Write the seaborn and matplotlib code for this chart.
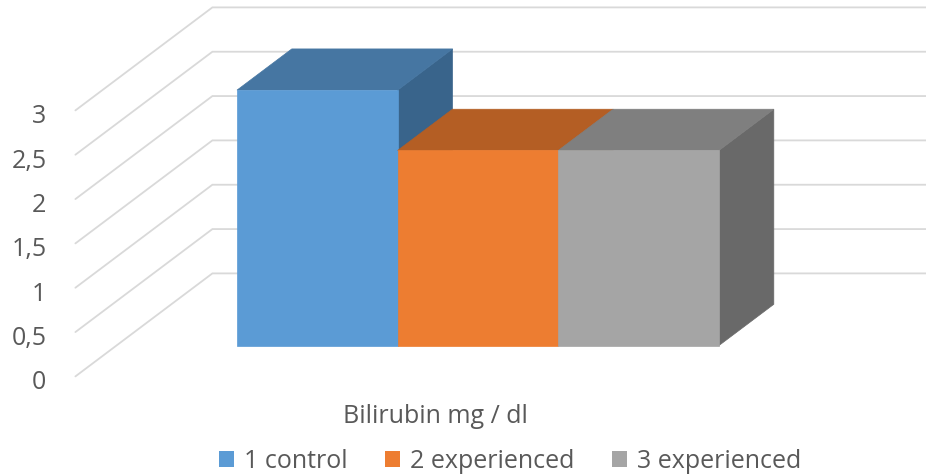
import matplotlib
matplotlib.use("Agg")
import matplotlib.pyplot as plt
from matplotlib.patches import Polygon, Patch
import pandas as pd
import seaborn as sns

# data
groups = ["1 control", "2 experienced", "3 experienced"]
bilirubin = [2.88, 2.2, 2.2]
y_ticks = [0, 0.5, 1, 1.5, 2, 2.5, 3]
axis_title = "Bilirubin mg / dl"

# colours: front face, top face, right side face
front_colors = ["#5B9BD5", "#ED7D31", "#A5A5A5"]
top_colors = ["#4676A2", "#B45E24", "#7F7F7F"]
side_colors = ["#39648B", "#9E521F", "#696969"]
text_color = "#595959"
grid_color = "#D9D9D9"

sns.set_theme(style="white")
plt.rcParams["font.family"] = ["Open Sans", "DejaVu Sans"]

W, H, DPI = 926, 477, 100
fig = plt.figure(figsize=(W / DPI, H / DPI), dpi=DPI)
ax = fig.add_axes([0, 0, 1, 1])

df = pd.DataFrame({"group": groups, "value": bilirubin})
sns.barplot(data=df, x="group", y="value", hue="group", palette=front_colors,
            width=1.0, saturation=1, legend=False, linewidth=0, ax=ax)

# view window: pixels per category / per value unit, bar base placement
px_per_x = 160.67
px_per_v = 88.67
left_px, base_px = 237, 346.5
ax.set_xlim(-0.5 - left_px / px_per_x, -0.5 + (W - left_px) / px_per_x)
ax.set_ylim(-(H - base_px) / px_per_v, base_px / px_per_v)
ax.axis("off")

# oblique projection of the depth axis (front wall d=0, back wall d=1)
DX, DY = 137 / px_per_x, 103 / px_per_v
BAR_FRONT, BAR_BACK = 0.3, 0.7


def proj(x, v, d):
    return x + (d - BAR_FRONT) * DX, v + (d - BAR_FRONT) * DY


x_left, x_right = 1 - 2.25, 1 + 2.25

# side wall and back wall gridlines with value labels
for v in y_ticks:
    pts = [proj(x_left, v, 0), proj(x_left, v, 1), proj(x_right, v, 1)]
    ax.plot([p[0] for p in pts], [p[1] for p in pts], color=grid_color,
            lw=1.3, zorder=1, solid_joinstyle="miter", clip_on=False)
    ax.annotate(f"{v:g}".replace(".", ","), xy=proj(x_left, v, 0),
                xytext=(-29, -12), textcoords="offset pixels",
                ha="right", va="baseline", fontsize=18, color=text_color)

# top and side faces built from each bar's front rectangle
bars = sorted(ax.patches, key=lambda p: p.get_x())
bdx = (BAR_BACK - BAR_FRONT) * DX
bdy = (BAR_BACK - BAR_FRONT) * DY
for i, p in enumerate(bars):
    x0 = p.get_x()
    x1 = x0 + p.get_width()
    h = p.get_height()
    p.set_zorder(3 + 2 * i)
    p.set_edgecolor(front_colors[i])
    p.set_linewidth(0.5)
    top = Polygon([(x0, h), (x1, h), (x1 + bdx, h + bdy), (x0 + bdx, h + bdy)],
                  closed=True, facecolor=top_colors[i], edgecolor=top_colors[i],
                  lw=0.5, zorder=2 + 2 * i)
    side = Polygon([(x1, 0), (x1, h), (x1 + bdx, h + bdy), (x1 + bdx, bdy)],
                   closed=True, facecolor=side_colors[i], edgecolor=side_colors[i],
                   lw=0.5, zorder=2 + 2 * i)
    ax.add_patch(side)
    ax.add_patch(top)

fig.text(435 / W, 1 - 423 / H, axis_title, ha="center", va="baseline",
         fontsize=18, color=text_color)

handles = [Patch(facecolor=c, edgecolor="none", label=g)
           for c, g in zip(front_colors, groups)]
fig.legend(handles=handles, loc="center", bbox_to_anchor=(510 / W, 1 - 462 / H),
           ncol=3, frameon=False, fontsize=18, handlelength=0.6, handleheight=0.6,
           handletextpad=0.4, columnspacing=1.5, labelcolor=text_color,
           borderpad=0, borderaxespad=0)

fig.savefig("out.png", dpi=DPI)
